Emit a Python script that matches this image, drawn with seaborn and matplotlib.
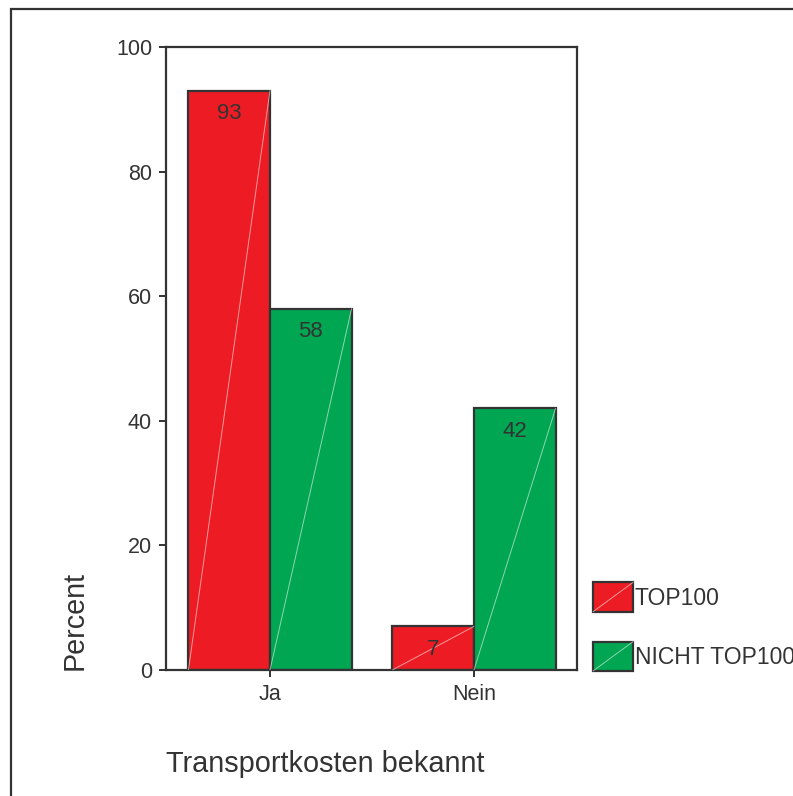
import matplotlib
matplotlib.use("Agg")
import matplotlib.pyplot as plt
from matplotlib.patches import Rectangle
from matplotlib.lines import Line2D
from matplotlib.legend_handler import HandlerPatch
import seaborn as sns
import pandas as pd

categories = ["Ja", "Nein"]
groups = ["TOP100", "NICHT TOP100"]
top100 = [93, 7]
nicht_top100 = [58, 42]
colors = ["#ED1C24", "#00A651"]

df = pd.DataFrame({
    "Transportkosten bekannt": categories * 2,
    "Gruppe": [groups[0]] * 2 + [groups[1]] * 2,
    "Percent": top100 + nicht_top100,
})

sns.set_theme(style="white")
plt.rcParams["font.family"] = ["Liberation Sans", "DejaVu Sans"]
ink = "#333333"

fig = plt.figure(figsize=(7.93, 7.96), dpi=100)
ax = fig.add_axes([0.2093, 0.1583, 0.5183, 0.7827])

sns.barplot(data=df, x="Transportkosten bekannt", y="Percent", hue="Gruppe",
            hue_order=groups, order=categories, palette=colors, width=0.8,
            edgecolor=ink, linewidth=1.6, saturation=1, ax=ax, legend=False)

# thin light diagonal across each bar, plus the value label near its top
for cont, vals in zip(ax.containers, [top100, nicht_top100]):
    for patch, v in zip(cont.patches, vals):
        x0, w, h = patch.get_x(), patch.get_width(), patch.get_height()
        ax.plot([x0, x0 + w], [0, h], color="white", lw=0.7, alpha=0.55, zorder=3)
        ax.annotate(f"{v}", (x0 + w / 2, h), xytext=(0, -16.5),
                    textcoords="offset points", ha="center", va="center",
                    fontsize=16, color=ink, zorder=4)

ax.set_ylim(0, 100)
ax.set_xlim(-0.51, 1.505)
ax.set_yticks([0, 20, 40, 60, 80, 100])
ax.tick_params(axis="both", which="major", direction="out", length=5,
               width=1.4, color=ink, labelcolor=ink, labelsize=15.5, pad=5,
               left=True, bottom=True)
for s in ax.spines.values():
    s.set_visible(True)
    s.set_color(ink)
    s.set_linewidth(1.6)

ax.set_ylabel("Percent", fontsize=20.7, color=ink, loc="bottom")
ax.yaxis.set_label_coords(-0.187, 0)
ax.set_xlabel("Transportkosten bekannt", fontsize=20.8, color=ink, loc="left")
ax.xaxis.set_label_coords(0.0, -0.128)


class HandlerDiag(HandlerPatch):
    def create_artists(self, legend, orig_handle, xdescent, ydescent,
                       width, height, fontsize, trans):
        r = Rectangle((-xdescent, -ydescent), width, height,
                      facecolor=orig_handle.get_facecolor(), edgecolor=ink,
                      linewidth=1.6, transform=trans)
        ln = Line2D([-xdescent, -xdescent + width], [-ydescent, -ydescent + height],
                    color="white", lw=0.7, alpha=0.55, transform=trans)
        return [r, ln]


handles = [Rectangle((0, 0), 1, 1, facecolor=c) for c in colors]
leg = fig.legend(handles, groups, loc="lower left",
                 bbox_to_anchor=(593 / 793, 1 - 671 / 796),
                 frameon=False, fontsize=16.5, handlelength=1.75,
                 handleheight=1.6, handletextpad=0.08, labelspacing=1.3,
                 borderaxespad=0, borderpad=0,
                 handler_map={Rectangle: HandlerDiag()})
for t in leg.get_texts():
    t.set_color(ink)

# outer frame, open to the right and bottom edges
frame = Rectangle((11 / 793, -0.1), 1.2, 1 - 9 / 796 + 0.1,
                  transform=fig.transFigure, fill=False, edgecolor=ink,
                  linewidth=1.6, clip_on=False)
fig.add_artist(frame)

fig.savefig("out.png", dpi=100, facecolor="white")
